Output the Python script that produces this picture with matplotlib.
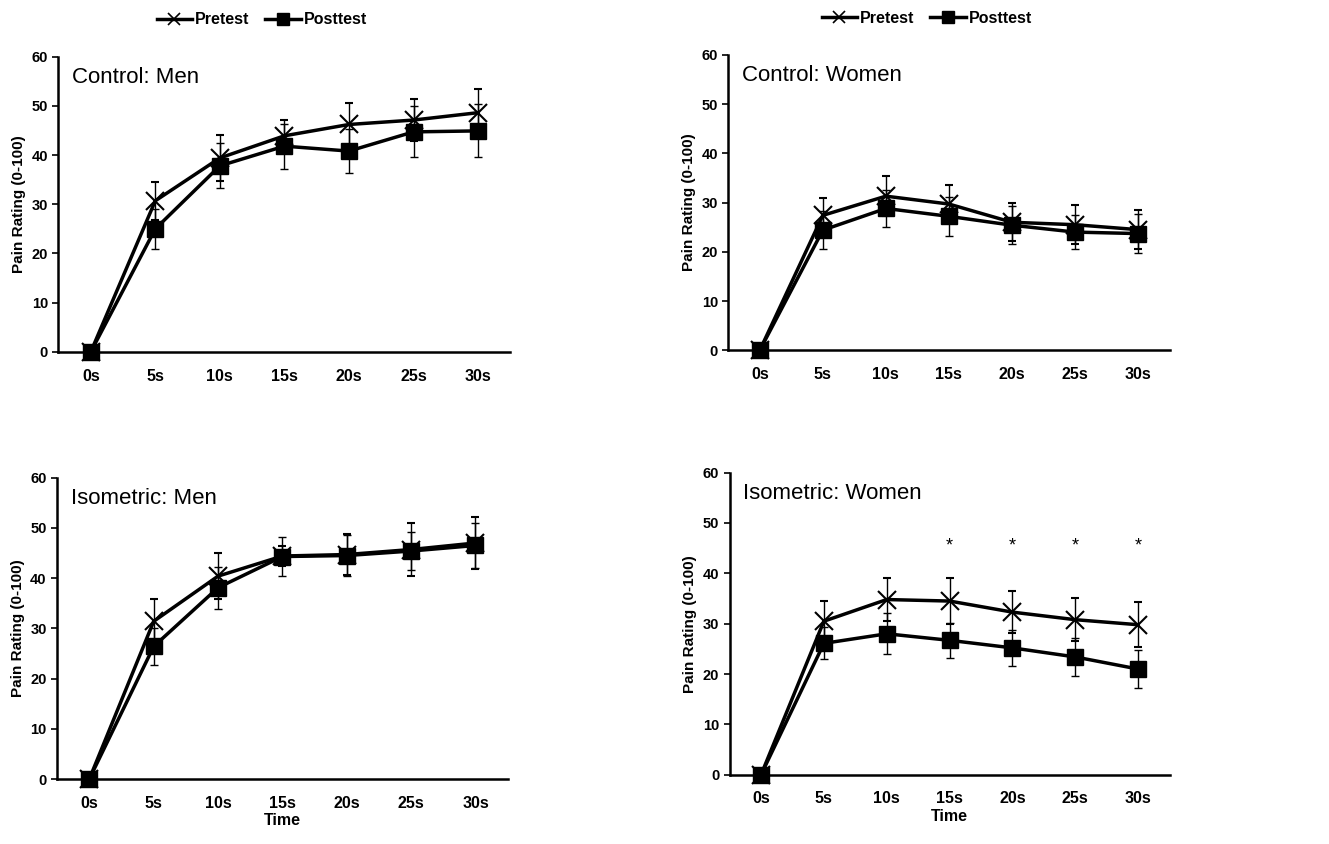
import matplotlib.pyplot as plt
from matplotlib.lines import Line2D
import numpy as np

plt.rcParams['font.family'] = ['Liberation Sans', 'DejaVu Sans']

times = ['0s', '5s', '10s', '15s', '20s', '25s', '30s']

# Control: Men
cm_pre = [0, 30.7, 39.4, 43.9, 46.2, 47.1, 48.6]
cm_pre_err = [0, 3.9, 4.6, 3.2, 4.3, 4.2, 4.9]
cm_post = [0, 25.0, 37.8, 41.8, 40.8, 44.7, 44.9]
cm_post_err = [0, 4.1, 4.6, 4.6, 4.5, 5.2, 5.4]

# Control: Women
cw_pre = [0, 27.4, 31.3, 29.7, 26.0, 25.5, 24.5]
cw_pre_err = [0, 3.6, 4.0, 3.8, 3.9, 4.0, 4.0]
cw_post = [0, 24.4, 28.8, 27.2, 25.4, 24.0, 23.7]
cw_post_err = [0, 3.8, 3.8, 3.9, 3.8, 3.4, 4.0]

# Isometric: Men
im_pre = [0, 31.4, 40.4, 44.4, 44.7, 45.7, 47.0]
im_pre_err = [0, 4.5, 4.6, 2.0, 4.0, 5.3, 5.2]
im_post = [0, 26.4, 38.1, 44.3, 44.5, 45.4, 46.5]
im_post_err = [0, 3.6, 4.2, 3.9, 4.1, 3.8, 4.4]

# Isometric: Women
iw_pre = [0, 30.5, 34.8, 34.5, 32.3, 30.8, 29.8]
iw_pre_err = [1.2, 4.0, 4.3, 4.6, 4.2, 4.3, 4.5]
iw_post = [0, 26.1, 28.0, 26.7, 25.2, 23.4, 21.0]
iw_post_err = [1.0, 3.2, 4.1, 3.5, 3.6, 3.7, 3.8]

sig_idx = [3, 4, 5, 6]
sig_y = 45.4

panels = [
    ('Control: Men', cm_pre, cm_pre_err, cm_post, cm_post_err, [0.044, 0.583, 0.340, 0.350], False),
    ('Control: Women', cw_pre, cw_pre_err, cw_post, cw_post_err, [0.548, 0.585, 0.332, 0.350], False),
    ('Isometric: Men', im_pre, im_pre_err, im_post, im_post_err, [0.043, 0.077, 0.339, 0.357], True),
    ('Isometric: Women', iw_pre, iw_pre_err, iw_post, iw_post_err, [0.549, 0.082, 0.331, 0.358], True),
]

fig = plt.figure(figsize=(13.29, 8.44), dpi=100)
x = np.arange(len(times))

leg_handles = [
    Line2D([], [], color='black', lw=2.5, marker='x', ms=8, mew=1.2),
    Line2D([], [], color='black', lw=2.5, marker='s', ms=8),
]

for i, (title, pre, pre_e, post, post_e, rect, bottom) in enumerate(panels):
    ax = fig.add_axes(rect)
    ax.errorbar(x, post, yerr=post_e, color='black', lw=2.5, marker='s', ms=11,
                elinewidth=1, capsize=3, capthick=1, clip_on=False, zorder=3)
    ax.errorbar(x, pre, yerr=pre_e, color='black', lw=2.5, marker='x', ms=13, mew=1.5,
                elinewidth=1, capsize=3, capthick=1, clip_on=False, zorder=4)
    ax.set_xlim(-0.5, 6.5)
    ax.set_ylim(0, 60)
    ax.set_yticks(range(0, 61, 10))
    ax.set_xticks(x)
    ax.set_xticklabels(times)
    for s in ['top', 'right']:
        ax.spines[s].set_visible(False)
    ax.spines['left'].set_linewidth(1.8)
    ax.spines['bottom'].set_linewidth(1.8)
    ax.tick_params(axis='x', length=0, pad=12, labelsize=11.5)
    ax.tick_params(axis='y', length=4, width=1.2, labelsize=10.5)
    for lab in ax.get_xticklabels() + ax.get_yticklabels():
        lab.set_fontweight('bold')
    ax.set_ylabel('Pain Rating (0-100)', fontsize=11, fontweight='bold', labelpad=4)
    ax.text(0.03, 0.93, title, transform=ax.transAxes, fontsize=16, va='center', ha='left')
    if bottom:
        ax.set_xlabel('Time', fontsize=11.5, fontweight='bold', labelpad=2)
    else:
        ax.legend(leg_handles, ['Pretest', 'Posttest'], loc='lower center',
                  bbox_to_anchor=(0.45, 1.05), ncol=2, frameon=False,
                  handlelength=2.2, handletextpad=0.2, columnspacing=1.0,
                  prop={'weight': 'bold', 'size': 11.5})
    if title == 'Isometric: Women':
        for j in sig_idx:
            ax.text(x[j], sig_y, '*', ha='center', va='center', fontsize=13)

fig.savefig('out.png', dpi=100)
